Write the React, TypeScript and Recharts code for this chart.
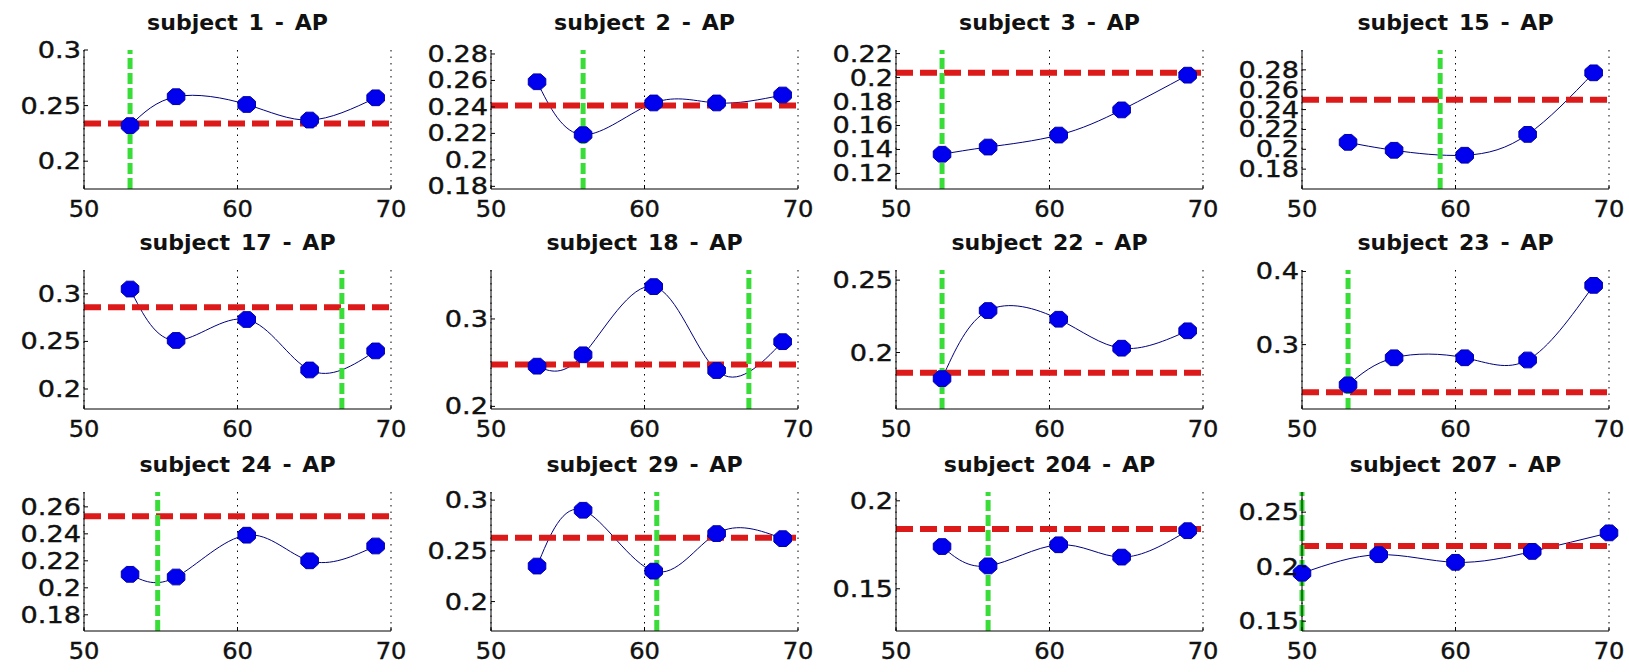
import { LineChart, Line, XAxis, YAxis, CartesianGrid, ReferenceLine } from 'recharts';

// subjects, in panel order (row by row)
const subjects = ['1', '2', '3', '15', '17', '18', '22', '23', '24', '29', '204', '207'];

// ages the AP value was measured at
const ages = [53, 56, 60.6, 64.7, 69];
const ages207 = [50, 55, 60, 65, 70];

// AP per subject, one row per panel
const apValues = [
  [0.232, 0.258, 0.251, 0.237, 0.257],
  [0.259, 0.219, 0.243, 0.243, 0.249],
  [0.136, 0.142, 0.152, 0.173, 0.202],
  [0.207, 0.199, 0.194, 0.215, 0.277],
  [0.305, 0.251, 0.273, 0.22, 0.24],
  [0.246, 0.259, 0.337, 0.241, 0.274],
  [0.182, 0.229, 0.223, 0.203, 0.215],
  [0.245, 0.282, 0.282, 0.279, 0.381],
  [0.21, 0.208, 0.239, 0.22, 0.231],
  [0.235, 0.29, 0.23, 0.267, 0.262],
  [0.174, 0.163, 0.175, 0.168, 0.183],
  [0.194, 0.211, 0.204, 0.214, 0.231],
];

// red dashed level and green dashed age per subject
const meanAp = [0.234, 0.241, 0.204, 0.25, 0.286, 0.248, 0.186, 0.235, 0.253, 0.263, 0.184, 0.219];
const cutAge = [53, 56, 53, 59, 66.8, 66.8, 53, 53, 54.8, 60.8, 56, 50];

const yDomains = [
  [0.175, 0.3],
  [0.178, 0.283],
  [0.107, 0.223],
  [0.16, 0.3],
  [0.179, 0.325],
  [0.197, 0.356],
  [0.161, 0.257],
  [0.212, 0.402],
  [0.168, 0.271],
  [0.171, 0.308],
  [0.126, 0.205],
  [0.141, 0.2685],
];

const yTicks = [
  [0.2, 0.25, 0.3],
  [0.18, 0.2, 0.22, 0.24, 0.26, 0.28],
  [0.12, 0.14, 0.16, 0.18, 0.2, 0.22],
  [0.18, 0.2, 0.22, 0.24, 0.26, 0.28],
  [0.2, 0.25, 0.3],
  [0.2, 0.3],
  [0.2, 0.25],
  [0.3, 0.4],
  [0.18, 0.2, 0.22, 0.24, 0.26],
  [0.2, 0.25, 0.3],
  [0.15, 0.2],
  [0.15, 0.2, 0.25],
];

const xTicks = [50, 60, 70];

const plotLefts = [84, 491, 896, 1302];
const plotTops = [50, 270, 492];
const PLOT_W = 307;
const PLOT_H = 139;
const Y_W = 80;
const M_TOP = 15;
const M_RIGHT = 25;
const FONT = '"DejaVu Sans", sans-serif';

const YTick = ({ x, y, payload }: any) => (
  <g>
    <line x1={x + 3} x2={x + 7} y1={y} y2={y} stroke="#000" />
    <g transform={`translate(${x},${y}) scale(1.18,1)`}>
      <text
        x={0}
        y={8}
        textAnchor="end"
        fontSize={23}
        fontFamily={FONT}
        fill="#111"
        stroke="#111"
        strokeWidth={0.4}
      >
        {payload.value}
      </text>
    </g>
  </g>
);

const XTick = ({ x, y, payload }: any) => (
  <g>
    <line x1={x} x2={x} y1={y - 4} y2={y} stroke="#000" />
    <g transform={`translate(${x},${y}) scale(1.05,1)`}>
      <text
        x={0}
        y={28}
        textAnchor="middle"
        fontSize={23}
        fontFamily={FONT}
        fill="#111"
        stroke="#111"
        strokeWidth={0.4}
      >
        {payload.value}
      </text>
    </g>
  </g>
);

const Marker = (p: any) => {
  const { cx, cy, index } = p;
  const pts = Array.from({ length: 8 }, (_, i) => {
    const a = (Math.PI / 8) * (2 * i + 1);
    return `${cx + 9.5 * Math.cos(a)},${cy + 8.5 * Math.sin(a)}`;
  }).join(' ');
  return <polygon key={index} points={pts} fill="#0000ee" stroke="#0000aa" strokeWidth={1} />;
};

const Panel = ({ i }: { i: number }) => {
  const left = plotLefts[i % 4];
  const top = plotTops[Math.floor(i / 4)];
  const xs = subjects[i] === '207' ? ages207 : ages;
  const data = xs.map((age, k) => ({ age, ap: apValues[i][k] }));

  return (
    <>
      <svg
        width={PLOT_W + 40}
        height={34}
        style={{ position: 'absolute', left: left - 20, top: top - 44 }}
      >
        <g transform={`translate(${PLOT_W / 2 + 20},24) scale(1.05,1)`}>
          <text
            x={0}
            y={0}
            textAnchor="middle"
            fontSize={21}
            fontWeight="bold"
            fontFamily={FONT}
            wordSpacing={3}
            fill="#111"
          >
            {`subject ${subjects[i]} - AP`}
          </text>
        </g>
      </svg>
      <div style={{ position: 'absolute', left: left - Y_W, top: top - M_TOP }}>
        <LineChart
          width={Y_W + PLOT_W + M_RIGHT}
          height={M_TOP + PLOT_H + 40}
          data={data}
          margin={{ top: M_TOP, right: M_RIGHT, bottom: 0, left: 0 }}
        >
          <CartesianGrid horizontal={false} stroke="#000" strokeDasharray="1.5 5" />
          <XAxis
            dataKey="age"
            type="number"
            domain={[50, 70]}
            ticks={xTicks}
            interval={0}
            height={40}
            tickSize={0}
            tickMargin={0}
            tickLine={false}
            axisLine={{ stroke: '#000' }}
            tick={XTick}
          />
          <YAxis
            type="number"
            domain={yDomains[i]}
            ticks={yTicks[i]}
            interval={0}
            width={Y_W}
            tickSize={0}
            tickMargin={3}
            tickLine={false}
            axisLine={{ stroke: '#000' }}
            tick={YTick}
          />
          <Line
            dataKey="ap"
            type="natural"
            stroke="#000080"
            strokeWidth={1}
            dot={Marker}
            activeDot={false}
            isAnimationActive={false}
          />
          <ReferenceLine y={meanAp[i]} stroke="#dd1a1a" strokeWidth={6} strokeDasharray="17 7" />
          <ReferenceLine x={cutAge[i]} stroke="#38dd38" strokeWidth={5} strokeDasharray="11 4" />
        </LineChart>
      </div>
    </>
  );
};

export default function App() {
  return (
    <div
      style={{
        position: 'absolute',
        left: 0,
        top: 0,
        width: 1629,
        height: 672,
        background: '#fff',
        overflow: 'hidden',
      }}
    >
      {subjects.map((s, i) => (
        <Panel key={s} i={i} />
      ))}
    </div>
  );
}
